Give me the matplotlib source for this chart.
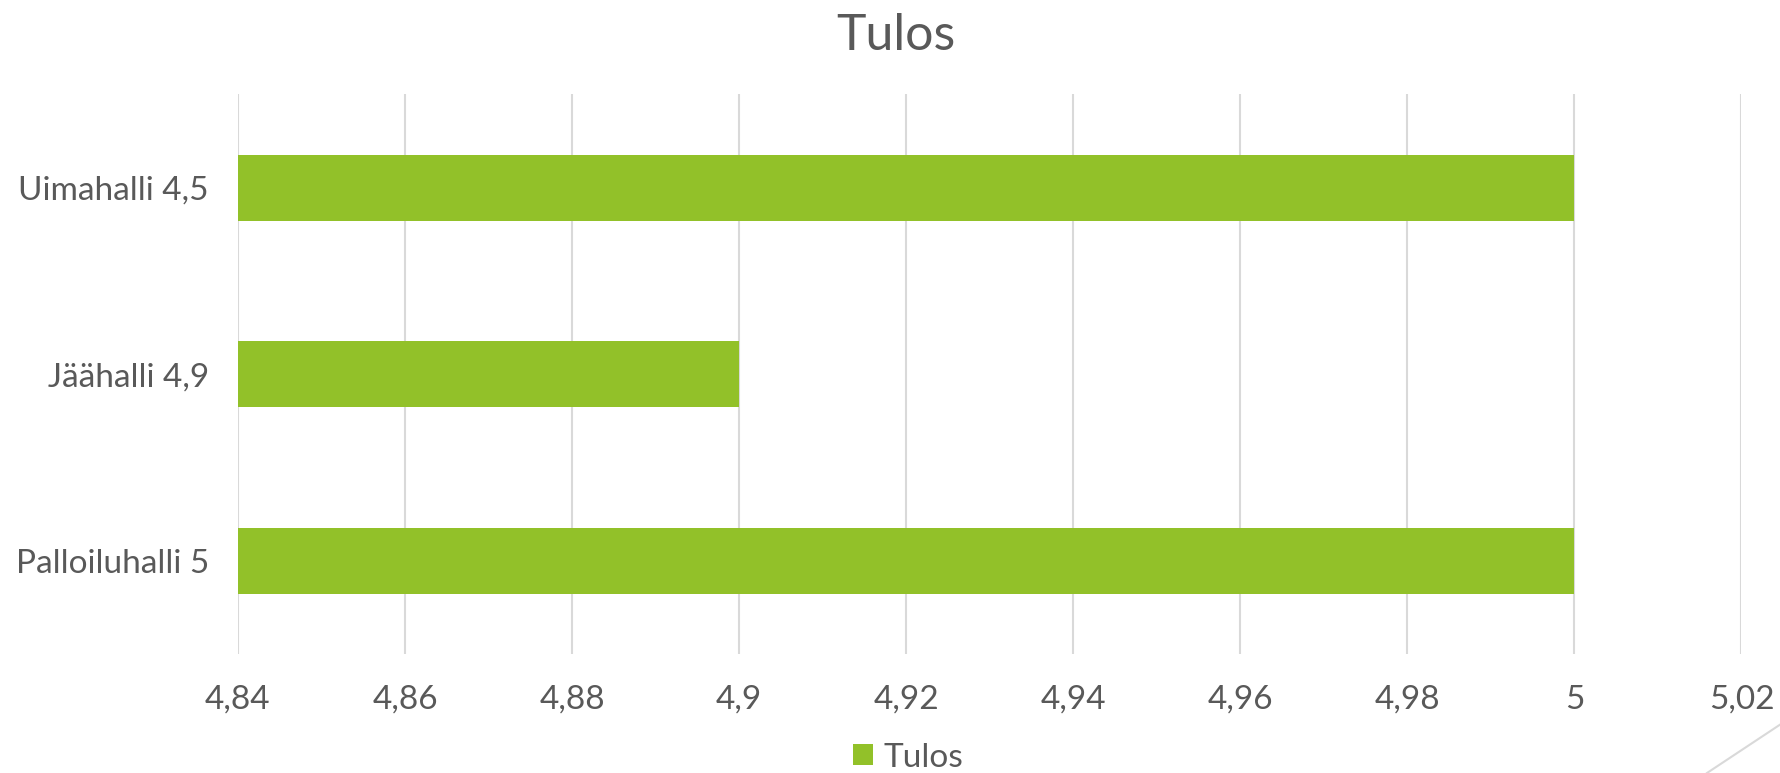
import matplotlib
matplotlib.use('Agg')
import matplotlib.pyplot as plt
from matplotlib.lines import Line2D
from matplotlib.ticker import FuncFormatter

# data
categories = ['Palloiluhalli 5', 'Jäähalli 4,9', 'Uimahalli 4,5']
values = [5.0, 4.9, 5.0]
series_name = 'Tulos'
x_ticks = [4.84, 4.86, 4.88, 4.90, 4.92, 4.94, 4.96, 4.98, 5.00, 5.02]

green = '#92C129'
txt = '#595959'
grid = '#D9D9D9'

plt.rcParams['font.family'] = ['Lato', 'DejaVu Sans']

fig = plt.figure(figsize=(17.81, 7.73), dpi=100)
ax = fig.add_axes([0.1336, 0.154, 0.8442, 0.724])

xmin = x_ticks[0]
ax.barh(range(len(categories)), [v - xmin for v in values], left=xmin,
        height=0.353, color=green, zorder=3, label=series_name)

ax.set_xlim(x_ticks[0], x_ticks[-1])
ax.set_ylim(-0.5, len(categories) - 0.5)
ax.set_xticks(x_ticks)
ax.xaxis.set_major_formatter(FuncFormatter(lambda v, p: ('%.2f' % v).rstrip('0').rstrip('.').replace('.', ',')))
ax.set_yticks(range(len(categories)))
ax.set_yticklabels(categories)

ax.grid(axis='x', color=grid, linewidth=1.5, zorder=0)
for s in ax.spines.values():
    s.set_visible(False)
ax.tick_params(axis='both', length=0, colors=txt, labelsize=24)
ax.tick_params(axis='x', pad=22)
ax.tick_params(axis='y', pad=21)

fig.text(0.503, 1 - 50 / 773, 'Tulos', ha='center', va='baseline', fontsize=36, color=txt)

leg = fig.legend(loc='center', bbox_to_anchor=(0.51, 0.02), frameon=False,
                 fontsize=24, handlelength=0.6, handleheight=0.6, handletextpad=0.3)
for t in leg.get_texts():
    t.set_color(txt)

# decorative corner line
fig.add_artist(Line2D([1.0, 1707 / 1781], [1 - 724 / 773, 0.0], transform=fig.transFigure,
                      color=grid, linewidth=1.5))

fig.savefig('out.png', dpi=100)
